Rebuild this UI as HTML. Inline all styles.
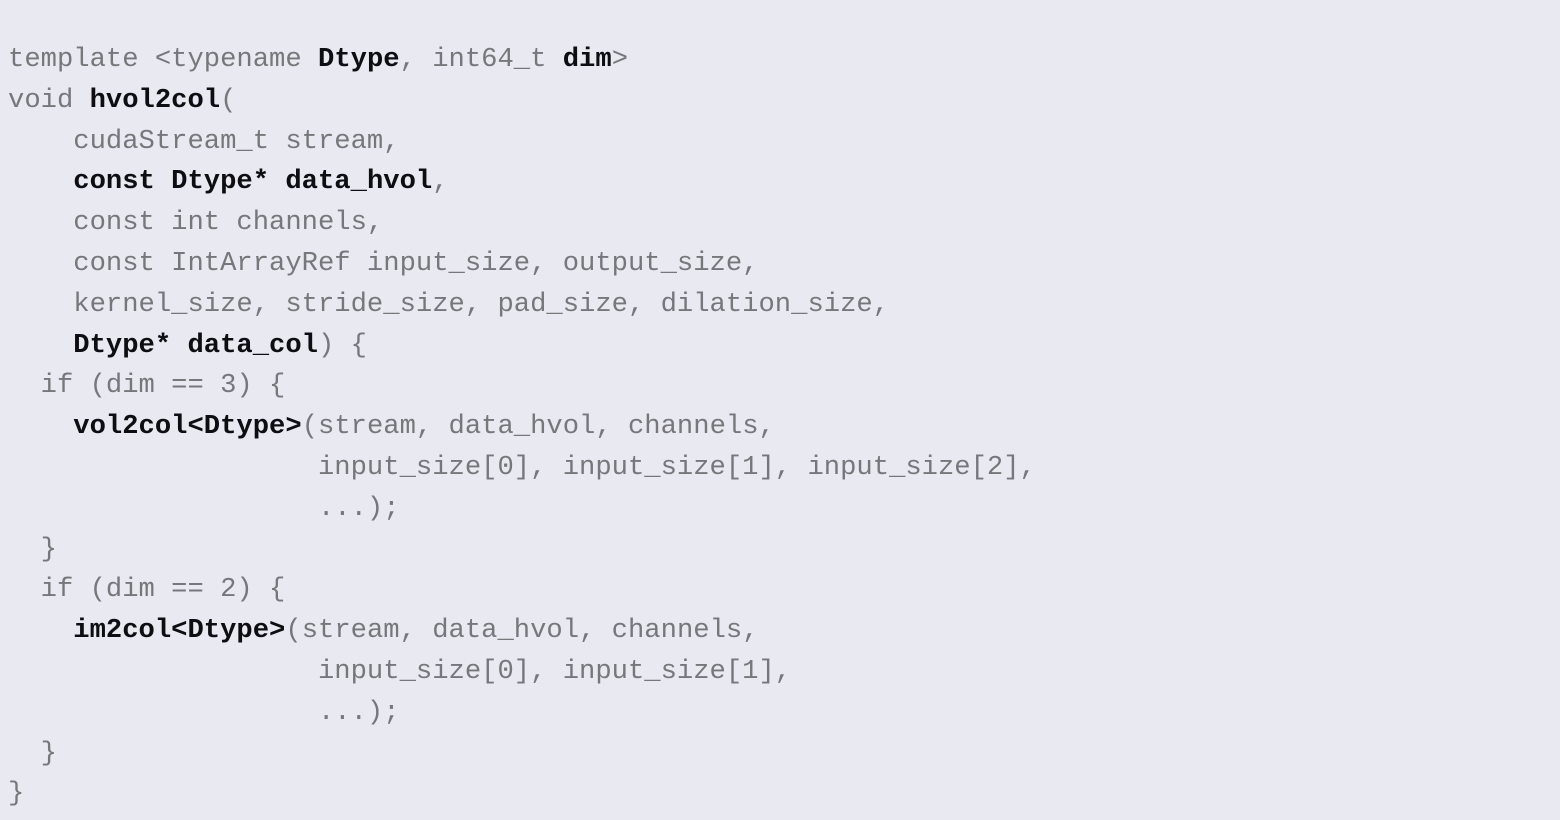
<!DOCTYPE html>
<html><head><meta charset="utf-8"><style>
html,body{margin:0;padding:0;background:#e9e9f1;width:1560px;height:820px;overflow:hidden}
pre{position:absolute;left:8px;top:40px;margin:0;font-family:"Liberation Mono",monospace;font-size:27.2px;line-height:40.8px;color:#77777b;letter-spacing:0}
b{color:#0d0d12;font-weight:bold}
</style></head><body>
<pre>template &lt;typename <b>Dtype</b>, int64_t <b>dim</b>&gt;
void <b>hvol2col</b>(
    cudaStream_t stream,
    <b>const Dtype* data_hvol</b>,
    const int channels,
    const IntArrayRef input_size, output_size,
    kernel_size, stride_size, pad_size, dilation_size,
    <b>Dtype* data_col</b>) {
  if (dim == 3) {
    <b>vol2col&lt;Dtype&gt;</b>(stream, data_hvol, channels,
                   input_size[0], input_size[1], input_size[2],
                   ...);
  }
  if (dim == 2) {
    <b>im2col&lt;Dtype&gt;</b>(stream, data_hvol, channels,
                   input_size[0], input_size[1],
                   ...);
  }
}</pre>
</body></html>
